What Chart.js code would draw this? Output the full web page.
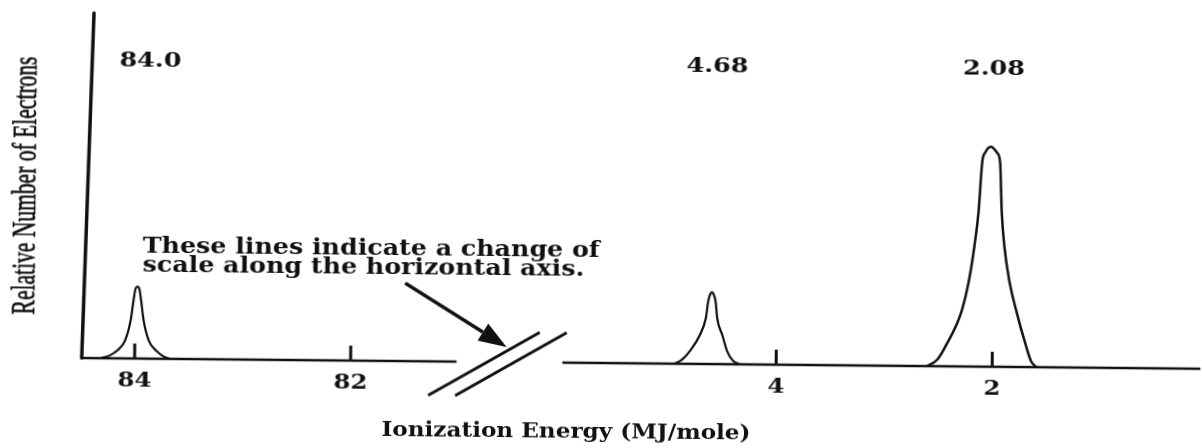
<!DOCTYPE html>
<html>
<head>
<meta charset="utf-8">
<script src="https://cdn.jsdelivr.net/npm/chart.js@4"></script>
<style>
  html, body { margin: 0; padding: 0; background: #fff; overflow: hidden; }
  #wrap { width: 1202px; height: 448px; }
  /* the original is a slightly tilted scan */
  canvas { transform: rotate(0.55deg); }
</style>
</head>
<body>
<div id="wrap"><canvas id="pes" width="1202" height="448"></canvas></div>
<script>
// x in MJ/mole, y in relative number of electrons
const leftTicks = [84, 82];
const rightTicks = [4, 2];

const peakLabels = ["84.0", "4.68", "2.08"];
const peakLabelX = [83.88, 4.57, 2.01];
const peakLabelAxis = ["x", "x2", "x2"];

// peak outlines
const peak84 = [
  [84.31, 0], [84.23, 0.04], [84.16, 0.11], [84.09, 0.25], [84.04, 0.53], [84.015, 0.81],
  [83.998, 0.97], [83.98, 1.0], [83.962, 0.97], [83.945, 0.81], [83.92, 0.53],
  [83.87, 0.25], [83.80, 0.11], [83.74, 0.04], [83.68, 0],
];
const peak468 = [
  [4.94, 0], [4.87, 0.06], [4.80, 0.18], [4.71, 0.40], [4.655, 0.64], [4.635, 0.87],
  [4.617, 0.97], [4.60, 1.0], [4.585, 0.97], [4.566, 0.87], [4.55, 0.64],
  [4.50, 0.40], [4.455, 0.18], [4.40, 0.05], [4.34, 0],
];
const peak208 = [
  [2.60, 0], [2.51, 0.09], [2.43, 0.29], [2.29, 0.76], [2.22, 1.22], [2.175, 1.68],
  [2.14, 2.15], [2.11, 2.85], [2.083, 2.98], [2.03, 3.06], [1.975, 2.98],
  [1.945, 2.85], [1.925, 2.15], [1.898, 1.68], [1.852, 1.22], [1.778, 0.76],
  [1.69, 0.30], [1.64, 0.08], [1.59, 0],
];

const leftBaseline = [[84.49, 0], [81.02, 0]];
const rightBaseline = [[5.98, 0], [0.07, 0]];

const ink = "#111";
const serif = "'DejaVu Serif'";
const pts = (arr) => arr.map(([x, y]) => ({ x, y }));

function curve(data, axis, width) {
  return {
    data: pts(data),
    xAxisID: axis,
    borderColor: ink,
    borderWidth: width,
    pointRadius: 0,
    fill: false,
    clip: false,
    cubicInterpolationMode: "monotone",
  };
}

// the scan is stretched sideways, so text gets a horizontal scale
function stretchFor(ctx, font, sample, width) {
  ctx.font = font;
  return width / ctx.measureText(sample).width;
}
function wideText(ctx, text, x, y, sx, align) {
  ctx.save();
  ctx.translate(x, y);
  ctx.scale(sx, 1);
  ctx.textAlign = align;
  ctx.fillText(text, 0, 0);
  ctx.restore();
}

const sketchPlugin = {
  id: "sketch",
  afterDatasetsDraw(chart) {
    const { ctx, chartArea: area, scales } = chart;
    const base = scales.y.getPixelForValue(0);
    ctx.save();
    ctx.strokeStyle = ink;
    ctx.fillStyle = ink;

    // vertical axis, leaning a little like the hand-drawn one
    ctx.lineWidth = 3.5;
    ctx.lineCap = "round";
    ctx.beginPath();
    ctx.moveTo(area.left, base);
    ctx.lineTo(area.left + 9, area.top);
    ctx.stroke();

    // ticks and their labels
    ctx.lineCap = "butt";
    ctx.lineWidth = 3;
    ctx.textBaseline = "middle";
    const tickSx = stretchFor(ctx, `bold 21px ${serif}`, "84", 34);
    const tickSets = [[scales.x, leftTicks], [scales.x2, rightTicks]];
    tickSets.forEach(([scale, ticks]) => {
      ticks.forEach((t) => {
        const px = scale.getPixelForValue(t);
        ctx.beginPath();
        ctx.moveTo(px, base);
        ctx.lineTo(px, base - 15);
        ctx.stroke();
        wideText(ctx, String(t), px, base + 23, tickSx, "center");
      });
    });

    // peak values above each peak
    const peakSx = stretchFor(ctx, `bold 20px ${serif}`, "84.0", 62);
    peakLabels.forEach((lab, i) => {
      const px = scales[peakLabelAxis[i]].getPixelForValue(peakLabelX[i]);
      wideText(ctx, lab, px, 66, peakSx, "center");
    });

    // scale-break marks between the two parts of the axis
    const gap = scales.x.getPixelForValue(leftBaseline[1][0]);
    ctx.lineWidth = 3;
    [0, 27].forEach((dx) => {
      ctx.beginPath();
      ctx.moveTo(gap - 28 + dx, base + 34);
      ctx.lineTo(gap + 83 + dx, base - 30);
      ctx.stroke();
    });

    // arrow pointing at the break
    const ax0 = gap - 52, ay0 = base - 78;
    const ax1 = gap + 50, ay1 = base - 15;
    const ang = Math.atan2(ay1 - ay0, ax1 - ax0);
    const headLen = 28, headW = 10;
    const bx = ax1 - headLen * Math.cos(ang), by = ay1 - headLen * Math.sin(ang);
    ctx.lineWidth = 3.5;
    ctx.beginPath();
    ctx.moveTo(ax0, ay0);
    ctx.lineTo(bx, by);
    ctx.stroke();
    ctx.beginPath();
    ctx.moveTo(ax1, ay1);
    ctx.lineTo(bx + headW * Math.sin(ang), by - headW * Math.cos(ang));
    ctx.lineTo(bx - headW * Math.sin(ang), by + headW * Math.cos(ang));
    ctx.closePath();
    ctx.fill();

    // note about the break
    ctx.textBaseline = "alphabetic";
    const noteSx = stretchFor(ctx, `bold 22px ${serif}`, "These lines indicate a change of", 457);
    wideText(ctx, "These lines indicate a change of", 143, 257, noteSx, "left");
    wideText(ctx, "scale along the horizontal axis.", 143, 276, noteSx, "left");

    // x axis title
    const titleSx = stretchFor(ctx, `bold 21px ${serif}`, "Ionization Energy (MJ/mole)", 369);
    wideText(ctx, "Ionization Energy (MJ/mole)", 568, 438, titleSx, "center");

    // y axis title, a condensed serif
    const yTitle = "Relative Number of Electrons";
    ctx.font = "33px 'Liberation Serif'";
    const squeeze = 258 / ctx.measureText(yTitle).width;
    ctx.translate(35, 191);
    ctx.rotate(-Math.PI / 2);
    ctx.scale(squeeze, 1);
    ctx.textAlign = "center";
    ctx.lineWidth = 0.7;
    ctx.fillText(yTitle, 0, 0);
    ctx.strokeText(yTitle, 0, 0);
    ctx.restore();
  },
};

new Chart(document.getElementById("pes").getContext("2d"), {
  type: "line",
  data: {
    datasets: [
      curve(leftBaseline, "x", 2.5),
      curve(rightBaseline, "x2", 2.5),
      curve(peak84, "x", 2.2),
      curve(peak468, "x2", 2.2),
      curve(peak208, "x2", 2.5),
    ],
  },
  options: {
    responsive: false,
    animation: false,
    events: [],
    layout: { padding: { left: 83, right: 0, top: 18, bottom: 85 } },
    plugins: {
      legend: { display: false },
      title: { display: false },
      tooltip: { enabled: false },
    },
    scales: {
      x: { type: "linear", reverse: true, min: 74.13, max: 84.49, display: false },
      x2: { type: "linear", reverse: true, min: 0.07, max: 10.43, display: false },
      y: { min: 0, max: 4.8, display: false },
    },
  },
  plugins: [sketchPlugin],
});
</script>
</body>
</html>
